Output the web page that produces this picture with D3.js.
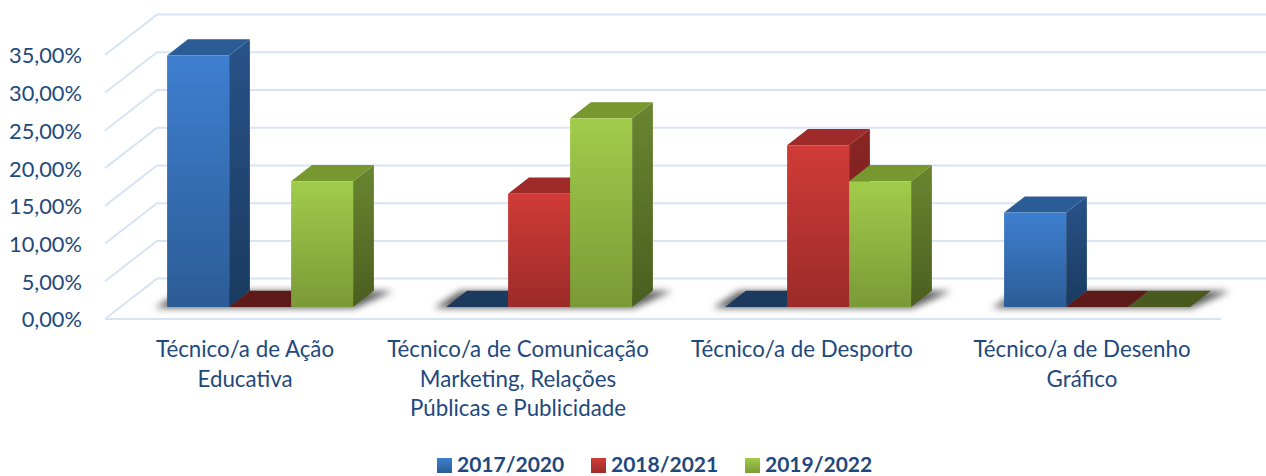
<!DOCTYPE html>
<html><head><meta charset="utf-8">
<script src="https://cdnjs.cloudflare.com/ajax/libs/d3/7.8.5/d3.min.js"></script>
<style>html,body{margin:0;padding:0;background:#fff}svg{display:block}text{font-family:Lato,"Open Sans",sans-serif;fill:#1f497d}</style>
</head><body><svg id="c" width="1266" height="476"></svg>
<script>
const categories=[["Técnico/a de Ação","Educativa"],["Técnico/a de Comunicação","Marketing, Relações","Públicas e Publicidade"],["Técnico/a de Desporto"],["Técnico/a de Desenho","Gráfico"]];
const seriesNames=["2017/2020","2018/2021","2019/2022"];
const v2017=[33.33,0,0,12.5];
const v2018=[0,15,21.43,0];
const v2019=[16.67,25,16.67,0];
const seriesValues=[v2017,v2018,v2019];
const yTicks=[0,5,10,15,20,25,30,35];
const palette=[
 {ft:"#3e7fd0",fb:"#2c5c96",st:"#285388",sb:"#1a3a60",top:"#2b5c96",zero:"#1b3a5e"},
 {ft:"#d03b37",fb:"#9c2b29",st:"#8a2624",sb:"#6c1d1c",top:"#9e2b29",zero:"#5e1a18"},
 {ft:"#a1cc4a",fb:"#7a9a37",st:"#6a8630",sb:"#4a5e20",top:"#76982f",zero:"#4a5a1e"}];
const W=1266,H=476,DX=52,DY=40.4,Z0=.3,Z1=.7;
const svg=d3.select("#c");
const y=d3.scaleLinear().domain([0,35]).range([319,55]);
const x=d3.scaleBand().domain(d3.range(categories.length)).range([105,1221]);
const xs=d3.scaleBand().domain(d3.range(3)).range([0,x.bandwidth()]).paddingInner(0).paddingOuter(.75);
const P=(px,v,z)=>[px+DX*z,y(v)-DY*z];
const path=pts=>"M"+pts.map(p=>p.join(",")).join("L")+"Z";
const defs=svg.append("defs");
const f=defs.append("filter").attr("id","blur").attr("x","-20%").attr("y","-100%").attr("width","140%").attr("height","300%");
f.append("feGaussianBlur").attr("stdDeviation",3.5);
palette.forEach((c,i)=>{
 [["f",c.ft,c.fb],["s",c.st,c.sb]].forEach(([k,a,b])=>{
  const g=defs.append("linearGradient").attr("id",k+i).attr("x1",0).attr("x2",0).attr("y1",0).attr("y2",1);
  g.append("stop").attr("offset",0).attr("stop-color",a);
  g.append("stop").attr("offset",1).attr("stop-color",b);
 });
});
const grid=svg.append("g").attr("stroke","#d7e4f4").attr("stroke-width",2).attr("fill","none");
yTicks.forEach(t=>{
 const a=P(105,t,0),b=P(105,t,1),c=P(1274,t,1);
 grid.append("path").attr("d",`M${a}L${b}L${c}`);
});
grid.append("path").attr("d",`M${P(105,0,0)}L${P(1221,0,0)}`);
const ax=svg.append("g").attr("transform","translate(105,1)").call(d3.axisLeft(y).tickValues(yTicks).tickSize(0).tickPadding(23).tickFormat(d=>d.toFixed(2).replace(".",",")+"%"));
ax.select(".domain").remove();
ax.selectAll("text").style("font-size","21.8px").style("fill","#1f497d").style("font-family","Lato");
categories.forEach((_,ci)=>{
 const l=x(ci)+xs(0)+DX*Z0,r=x(ci)+xs(2)+xs.bandwidth()+DX*Z0;
 svg.append("path").attr("d",path([[l-12,308],[r+2,308],[r+40,291],[l+14,291]])).attr("fill","#5e5e5e").attr("filter","url(#blur)");
});
categories.forEach((_,ci)=>{
 seriesValues.forEach((vals,si)=>{
  const v=vals[ci],c=palette[si],a=x(ci)+xs(si),b=a+xs.bandwidth();
  const g=svg.append("g");
  if(v===0){
   g.append("path").attr("d",path([P(a,0,Z0),P(b,0,Z0),P(b,0,Z1),P(a,0,Z1)])).attr("fill",c.zero);
   return;
  }
  g.append("path").attr("d",path([P(b,0,Z0),P(b,v,Z0),P(b,v,Z1),P(b,0,Z1)])).attr("fill",`url(#s${si})`);
  g.append("path").attr("d",path([P(a,v,Z0),P(b,v,Z0),P(b,v,Z1),P(a,v,Z1)])).attr("fill",c.top);
  g.append("path").attr("d",path([P(a,0,Z0),P(b,0,Z0),P(b,v,Z0),P(a,v,Z0)])).attr("fill",`url(#f${si})`);
 });
});
const catCenters=[245,518,802,1082];
categories.forEach((lines,ci)=>{
 lines.forEach((t,i)=>{
  svg.append("text").attr("x",catCenters[ci]).attr("y",357+29.5*i).attr("text-anchor","middle").style("font-size","22.3px").text(t);
 });
});
const legendX=[437,591,745];
seriesNames.forEach((n,i)=>{
 const g=defs.append("linearGradient").attr("id","l"+i).attr("x1",0).attr("x2",0).attr("y1",0).attr("y2",1);
 g.append("stop").attr("offset",0).attr("stop-color",palette[i].ft);
 g.append("stop").attr("offset",1).attr("stop-color",palette[i].fb);
 svg.append("rect").attr("x",legendX[i]).attr("y",458).attr("width",15).attr("height",15).attr("fill",`url(#l${i})`);
 svg.append("text").attr("x",legendX[i]+20).attr("y",472).style("font-size","21px").style("font-weight",700).text(n);
});
</script></body></html>
